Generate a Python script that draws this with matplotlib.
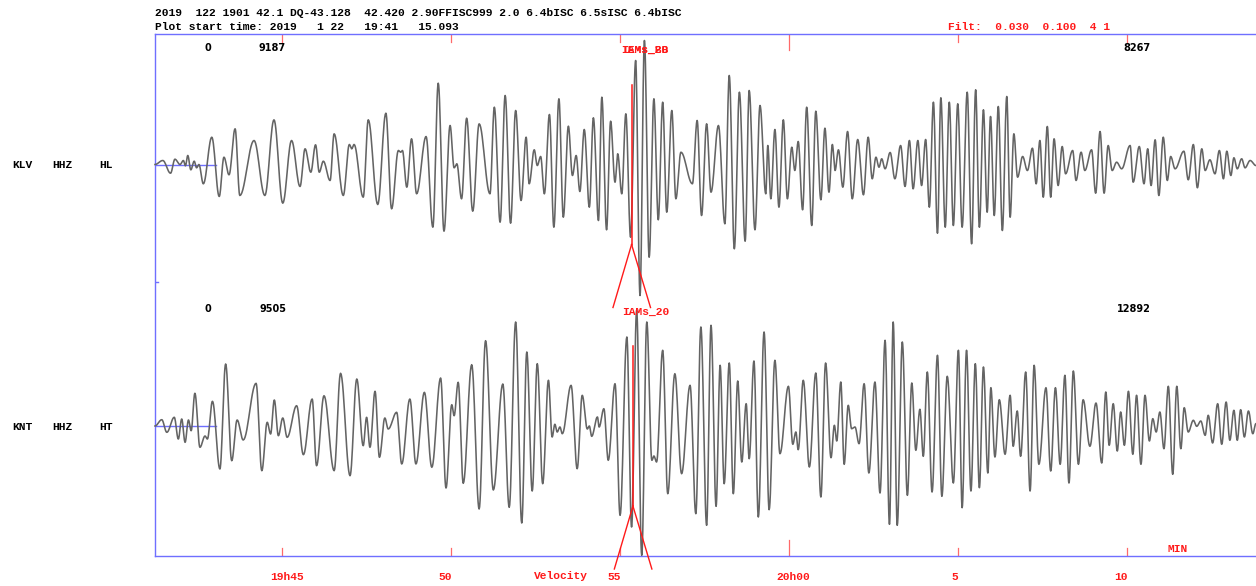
import numpy as np
import matplotlib
matplotlib.use("Agg")
import matplotlib.pyplot as plt
from matplotlib.transforms import offset_copy

# ---------------------------------------------------------------- data
header_line = ("2019  122 1901 42.1 DQ-43.128  42.420 2.90FFISC999 2.0 "
               "6.4bISC 6.5sISC 6.4bISC")
start_line = "Plot start time: 2019   1 22   19:41   15.093"
filter_line = "Filt:  0.030  0.100  4 1"

# plot start 19:41:15.093 (seconds of day)
start_clock_s = 19 * 3600 + 41 * 60 + 15.093

# time marks (clock minutes of day) and their labels
tick_clock_min = [19 * 60 + 45, 19 * 60 + 50, 19 * 60 + 55,
                  20 * 60 + 0, 20 * 60 + 5, 20 * 60 + 10]
tick_labels = ["19h45", "50", "55", "20h00", "5", "10"]

stations = [("KLV", "HHZ", "HL"), ("KNT", "HHZ", "HT")]
amp_left = ["9187", "9505"]
amp_right = ["8267", "12892"]
pick_names = [["IAMs_20", "IEMs_BB"], ["IAMs_20"]]
pick_times = [14.10, 14.14]          # minutes after plot start

# extrema of the filtered traces: (minutes after plot start, amplitude)
klv_extrema = [
    (0.00, 0), (0.23, 4), (0.46, -8.7), (0.59, 5.3), (0.74, 0), (0.84, 4),
    (0.90, -1.3), (0.97, 9), (1.06, -5.3), (1.16, 3.3), (1.23, -3.3),
    (1.30, 0), (1.43, -19.3), (1.68, 27.3), (1.90, -32), (2.04, 7.3),
    (2.19, -10.3), (2.37, 35.7), (2.51, -31), (2.93, 24), (3.25, -31),
    (3.52, 44.7), (3.78, -38.7), (4.04, 24), (4.29, -22), (4.44, 15.7),
    (4.61, -7.7), (4.75, 19.7), (4.86, -7.7), (4.98, 3.3), (5.18, -16),
    (5.30, 30.7), (5.57, -31), (5.75, 20), (5.82, 15.7), (5.89, 20),
    (6.16, -32.7), (6.31, 44.7), (6.59, -40), (6.83, 51.3), (7.00, -44.3),
    (7.20, 14), (7.27, 12.3), (7.32, 14), (7.45, -22.7), (7.59, 25.7),
    (7.74, -29.3), (8.02, 28), (8.22, -62.7), (8.38, 81.3), (8.55, -66.7),
    (8.73, 39), (8.85, -3.3), (8.93, 0.7), (9.07, -34.3), (9.22, 46.3),
    (9.40, -46.7), (9.59, 40.7), (9.91, -29.3), (10.04, 57.3),
    (10.21, -57.7), (10.36, 69), (10.52, -58.7), (10.67, 54), (10.83, -36),
    (10.98, 27.3), (11.07, -19.3), (11.22, 14.7), (11.31, -1), (11.41, 8),
    (11.52, -29.3), (11.67, 50), (11.80, -62.7), (11.95, 65.7),
    (12.08, -52.7), (12.23, 38.3), (12.35, -11), (12.46, 9), (12.57, -27),
    (12.70, 35), (12.85, -42.7), (12.97, 46.7), (13.12, -56), (13.22, 67.3),
    (13.36, -65.3), (13.48, 43.3), (13.61, -17.7), (13.69, 10.7),
    (13.81, -29.3), (13.93, 50.7), (14.07, -72.7), (14.22, 104),
    (14.35, -131), (14.48, 124), (14.62, -92.7), (14.76, 65.7),
    (14.89, -55.3), (15.02, 62.3), (15.14, -47.7), (15.29, 54),
    (15.41, -34.3), (15.56, 12.3), (15.90, -19.3), (16.04, 44), (16.17, -51),
    (16.32, 40.7), (16.45, -27.7), (16.67, 39), (16.86, -59.3), (16.99, 89),
    (17.14, -84.3), (17.29, 72.3), (17.46, -76.7), (17.58, 74),
    (17.75, -65.3), (17.90, 59), (18.07, -29.3), (18.13, 19), (18.22, -34.3),
    (18.34, 35), (18.46, -42.7), (18.59, 44.7), (18.71, -34.3), (18.84, 17.3),
    (18.93, -6), (19.03, 23), (19.16, -45.3), (19.28, 57.3), (19.43, -61),
    (19.55, 53.3), (19.70, -35.3), (19.82, 36.3), (19.94, -27.7),
    (20.04, 20), (20.12, -6), (20.22, 14.7), (20.35, -22.7), (20.49, 33),
    (20.63, -34.3), (20.79, 25), (20.96, -30.3), (21.10, 27.3),
    (21.22, -14.3), (21.33, 7.3), (21.42, -2.7), (21.50, 5.7), (21.60, -4.3),
    (21.75, 12), (21.89, -14.3), (22.06, 19), (22.19, -22), (22.32, 24),
    (22.43, -24.3), (22.57, 24), (22.68, -21), (22.80, 25), (22.91, -42.7),
    (23.03, 62.3), (23.15, -68.7), (23.25, 66.7), (23.38, -62.7),
    (23.50, 62.3), (23.62, -61), (23.75, 60.7), (23.88, -62.7),
    (24.03, 72.3), (24.16, -79.3), (24.28, 74.7), (24.39, -62.7),
    (24.51, 54.7), (24.62, -47.7), (24.72, 48), (24.83, -51), (24.95, 58),
    (25.07, -66), (25.20, 68), (25.30, -52.7), (25.41, 30.7), (25.52, -12.7),
    (25.67, 8), (25.81, -6), (25.96, 16.3), (26.07, -19.3), (26.18, 24),
    (26.28, -32.7), (26.40, 38), (26.50, -32.7), (26.60, 25.7), (26.72, -21),
    (26.84, 18), (26.94, -9.3), (27.15, 14), (27.25, -16), (27.40, 12.3),
    (27.51, -6), (27.71, 14.7), (27.83, -28.7), (27.96, 33), (28.08, -28.7),
    (28.20, 19), (28.32, -6), (28.45, 2.3), (28.60, -4.3), (28.85, 19),
    (28.94, -17.7), (29.12, 18), (29.26, -19.3), (29.37, 15.7), (29.47, -21),
    (29.59, 24.7), (29.70, -31), (29.83, 27.3), (29.95, -16), (30.05, 8),
    (30.18, -4.3), (30.44, 13.3), (30.57, -15.3), (30.72, 20),
    (30.84, -23.3), (30.97, 15.7), (31.07, -6), (31.21, 4.7), (31.36, -9.3),
    (31.49, 14), (31.61, -14.3), (31.71, 13.3), (31.83, -11), (31.92, 6.7),
    (32.02, -4.3), (32.15, 5.7), (32.25, -3.3), (32.40, 4), (32.57, -1),
]

knt_extrema = [
    (0.00, 0), (0.20, 6.3), (0.35, -6.3), (0.57, 8.7), (0.69, -13), (0.79, 7),
    (0.89, -16.3), (0.99, 6), (1.07, -4.7), (1.18, 32.7), (1.33, -21.3),
    (1.48, -10), (1.55, -13), (1.70, 24.7), (1.92, -43), (2.09, 62),
    (2.27, -34.7), (2.43, 6), (2.61, -14), (2.99, 42.7), (3.16, -44.7),
    (3.32, 3.7), (3.42, -8), (3.53, 26), (3.65, -9.7), (3.78, 8),
    (3.91, -11.3), (4.19, 20.3), (4.39, -28.7), (4.65, 27), (4.78, -39.7),
    (5.00, 30.3), (5.30, -44.7), (5.49, 52.7), (5.77, -49.7), (5.97, 47),
    (6.16, -19.7), (6.26, 8.7), (6.36, -21.3), (6.51, 34.7), (6.64, -31.3),
    (6.80, 8), (6.90, -3), (7.15, 13.7), (7.30, -38), (7.54, 27), (7.72, -38),
    (7.97, 33.7), (8.19, -41.3), (8.45, 48), (8.61, -62), (8.78, 21.3),
    (8.85, 10.3), (8.97, 43.7), (9.12, -57.3), (9.37, 61.3), (9.59, -83),
    (9.78, 85.3), (10.01, -64), (10.29, 42), (10.48, -81.3), (10.67, 104),
    (10.85, -97), (11.00, 74), (11.16, -65), (11.31, 62.3), (11.47, -57.7),
    (11.64, 45.7), (11.75, -11), (11.83, 1.7), (11.90, -6), (11.98, -1),
    (12.05, -7.7), (12.31, 40.7), (12.49, -42.7), (12.64, 30.7),
    (12.79, -3), (12.85, 0), (12.92, -10.3), (13.09, 9), (13.14, -1),
    (13.28, 17.3), (13.41, -34.3), (13.61, 42.3), (13.76, -89.3),
    (13.96, 89), (14.10, -101), (14.25, 115.7), (14.40, -129.3),
    (14.55, 104), (14.70, -34.3), (14.76, -30), (14.84, -36), (15.02, 75.7),
    (15.17, -67.7), (15.38, 52.3), (15.58, -47.7), (15.83, 40.7),
    (16.00, -87.7), (16.15, 99), (16.32, -99.3), (16.45, 100.7),
    (16.60, -80.3), (16.72, 60.7), (16.84, -57.7), (16.99, 63),
    (17.11, -67.7), (17.24, 45), (17.36, -36), (17.49, 22.3), (17.58, -32.7),
    (17.72, 65), (17.85, -91), (18.02, 94), (18.17, -83.7), (18.34, 65.7),
    (18.49, -27.7), (18.74, 39.7), (18.87, -18.3), (18.96, -6),
    (19.03, -23.7), (19.18, 45.7), (19.36, -41), (19.55, 53), (19.70, -71),
    (19.84, 63), (20.00, -31.7), (20.10, 0.7), (20.17, -15), (20.29, 44),
    (20.39, -38.3), (20.51, 20.7), (20.61, -2.7), (20.71, -1),
    (20.83, -17.7), (20.98, 42.3), (21.12, -47), (21.30, 44), (21.45, -67),
    (21.60, 85.7), (21.73, -98.3), (21.84, 104), (21.96, -99.3),
    (22.11, 84), (22.26, -69.3), (22.39, 43), (22.51, -24.3), (22.63, 16.7),
    (22.73, -30.3), (22.85, 54), (22.99, -66), (23.15, 70.7),
    (23.28, -70.3), (23.44, 49.7), (23.62, -57), (23.77, 75.7),
    (23.88, -81.7), (24.01, 75.7), (24.14, -65), (24.27, 62.3),
    (24.39, -61.7), (24.51, 59), (24.64, -47), (24.73, 38.3), (24.85, -31),
    (24.98, 26.3), (25.15, -28.3), (25.30, 30.7), (25.39, -20.3),
    (25.51, 15), (25.61, -30.3), (25.76, 54), (25.89, -65), (26.01, 60.7),
    (26.15, -38.3), (26.36, 38.3), (26.50, -45), (26.64, 38.3),
    (26.78, -38.3), (26.92, 50.7), (27.04, -57), (27.17, 55),
    (27.32, -38.3), (27.46, 26.3), (27.66, -20.3), (27.84, 23), (28.01, -37),
    (28.13, 34), (28.23, -19.3), (28.35, 22.3), (28.47, -25), (28.57, 14),
    (28.68, -19.3), (28.80, 34.7), (28.93, -28.3), (29.04, 30.7),
    (29.17, -38.3), (29.29, 30.7), (29.42, -15), (29.52, 7.3), (29.62, -6),
    (29.73, 14), (29.85, -22.7), (29.98, 39.7), (30.11, -48.3),
    (30.23, 39.7), (30.35, -22.7), (30.45, 18.3), (30.57, -6), (30.72, 5.7),
    (30.82, -0.3), (30.94, 5), (31.07, -9.3), (31.16, 10.7), (31.29, -17),
    (31.44, 22.3), (31.56, -18.3), (31.69, 24), (31.80, -14.3),
    (31.92, 15.7), (32.02, -14.3), (32.12, 16.3), (32.23, -11), (32.35, 15),
    (32.48, -7.7), (32.57, 2.3),
]
traces = [klv_extrema, knt_extrema]

# ---------------------------------------------------------------- style
W, H = 1256, 586
BLUE = "#6f6fff"
RED = "#ff1a1a"
TICK_RED = "#ff6a6a"
TRACE = "#646464"
MONO = dict(family="Liberation Mono", weight="bold", size=8.1)
NUM = dict(family="DejaVu Sans", weight="bold", size=7)

span_min = 1101 / 33.8               # visible window length in minutes
baselines = [391.5, 130.0]           # trace zero lines (y units of the panel)
quiet_end = 1.80                     # end of the drawn zero line


def fig_xy(px, py):
    return px / W, 1 - py / H


def smooth_trace(extrema, n=14):
    """Connect successive extrema with half-cosine segments."""
    t = np.array([e[0] for e in extrema], dtype=float)
    a = np.array([e[1] for e in extrema], dtype=float)
    ts, av = [], []
    u = np.linspace(0, 1, n, endpoint=False)
    for i in range(len(t) - 1):
        ts.append(t[i] + (t[i + 1] - t[i]) * u)
        av.append(a[i] + (a[i + 1] - a[i]) * (1 - np.cos(np.pi * u)) / 2)
    ts.append(t[-1:])
    av.append(a[-1:])
    return np.concatenate(ts), np.concatenate(av)


fig = plt.figure(figsize=(W / 100, H / 100), dpi=100)
ax = fig.add_axes([155 / W, 30 / H, 1101 / W, 522 / H])
ax.set_xlim(0, span_min)
ax.set_ylim(0, 522)
ax.set_xticks([])
ax.set_yticks([])
for side in ("top", "left", "bottom"):
    ax.spines[side].set_color(BLUE)
    ax.spines[side].set_linewidth(1.0)
ax.spines["right"].set_visible(False)

# traces
for base, ext in zip(baselines, traces):
    ax.plot([0, quiet_end], [base, base], color=BLUE, lw=1.0, zorder=2)
    t, a = smooth_trace(ext)
    ax.plot(t, base + a, color=TRACE, lw=1.15, zorder=3,
            solid_joinstyle="round", clip_on=False)

# time marks on top and bottom edges
xt = ax.get_xaxis_transform()
tick_t = [(m * 60 - start_clock_s) / 60 for m in tick_clock_min]
for t, lab in zip(tick_t, tick_labels):
    ln = 16 / 522 if "h" in lab and lab.endswith("00") else 8 / 522
    ax.plot([t, t], [0, ln], color=TICK_RED, lw=0.9, transform=xt, zorder=1)
    ax.plot([t, t], [1, 1 - ln], color=TICK_RED, lw=0.9, transform=xt, zorder=1)
    if len(lab) <= 2:
        tr = offset_copy(xt, fig=fig, x=1, y=0, units="dots")
        ha = "right"
    else:
        tr = offset_copy(xt, fig=fig, x=-12, y=0, units="dots")
        ha = "left"
    ax.text(t, -21 / 522, lab, transform=tr, ha=ha, va="center",
            color=RED, clip_on=False, **MONO)

ax.text(379 / 1101, -20 / 522, "Velocity", transform=ax.transAxes,
        ha="left", va="center", color=RED, **MONO)
ax.text(1013 / 1101, 7 / 522, "MIN", transform=ax.transAxes,
        ha="left", va="center", color=RED, **MONO)

# small mark on the left edge
ax.plot([0, 3 / 1101], [274 / 522, 274 / 522], color=BLUE, lw=1.0,
        transform=ax.transAxes)

# amplitude picks
for base, tp, names in zip(baselines, pick_times, pick_names):
    top, bot = base + 80, base - 80
    ax.plot([tp, tp], [top, bot], color=RED, lw=1.1, zorder=4)
    for dx in (-0.55, 0.56):
        ax.plot([tp, tp + dx], [bot, bot - 63], color=RED, lw=1.0,
                zorder=4, clip_on=False)
    label_y = base + (115 if base > 200 else 114)
    for nm in names:
        ax.text(tp - 0.31, label_y, nm, ha="left", va="center",
                color=RED, zorder=5, clip_on=False, **MONO)

# header lines
fig.text(*fig_xy(155, 13), header_line, ha="left", va="center",
         color="black", **MONO)
fig.text(*fig_xy(155, 27), start_line, ha="left", va="center",
         color="black", **MONO)
fig.text(*fig_xy(948, 27), filter_line, ha="left", va="center",
         color=RED, **MONO)

# station labels and amplitude scales
for (sta, cmp_, chan), py in zip(stations, [165, 427]):
    fig.text(*fig_xy(12, py), sta, ha="left", va="center", **MONO)
    fig.text(*fig_xy(52, py), cmp_, ha="left", va="center", **MONO)
    fig.text(*fig_xy(99, py), chan, ha="left", va="center", **MONO)

for left, right, py in zip(amp_left, amp_right, [48, 309]):
    fig.text(*fig_xy(208, py), "0", ha="center", va="center", **NUM)
    fig.text(*fig_xy(286, py), left, ha="right", va="center", **NUM)
    fig.text(*fig_xy(1151, py), right, ha="right", va="center", **NUM)

fig.savefig("out.png", dpi=100, facecolor="white")
